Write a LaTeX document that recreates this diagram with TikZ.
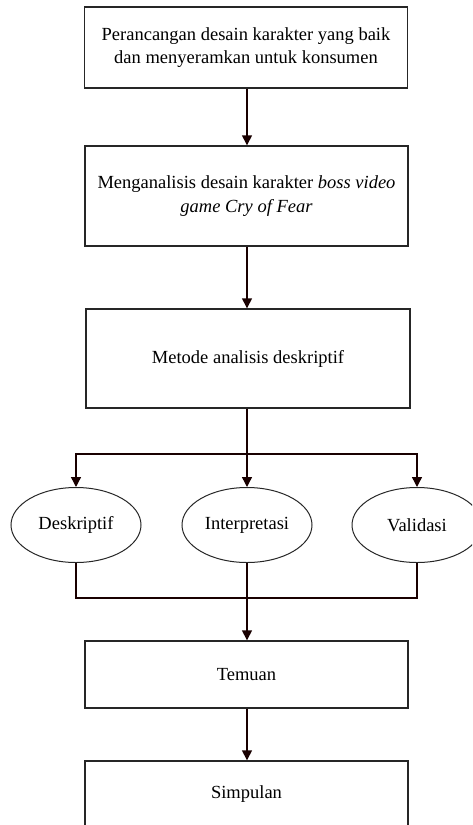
\documentclass[tikz,border=0pt]{standalone}
\usepackage{fontspec}
\setmainfont{Liberation Serif}
\usetikzlibrary{arrows.meta,shapes.geometric}
\begin{document}
\begin{tikzpicture}[x=1pt,y=1pt,
  line width=1.4pt,
  box/.style={draw=black!85, rectangle, minimum width=323pt, inner sep=0pt, align=center, font=\fontsize{18.5}{23.5}\selectfont},
  oval/.style={draw=black!85, line width=1pt, ellipse, minimum width=130pt, minimum height=75pt, inner sep=0pt, font=\fontsize{18.5}{23}\selectfont},
  arr/.style={draw=black!90!red, -{Triangle[length=10pt,width=10pt]}},
  ln/.style={draw=black!90!red}]
\useasboundingbox (0,0) rectangle (472,-825);
\clip (0,0) rectangle (472,-825);
\node[box, minimum height=81pt] (b1) at (246,-47.5) {Perancangan desain karakter yang baik\\dan menyeramkan untuk konsumen};
\node[box, minimum height=100pt] (b2) at (246.5,-196) {Menganalisis desain karakter \textit{boss video}\\\textit{game Cry of Fear}};
\node[box, minimum height=99pt, minimum width=324pt] (b3) at (248,-358.5) {Metode analisis deskriptif};
\node[oval] (d) at (76,-525) {Deskriptif};
\node[oval] (i) at (247,-525) {Interpretasi};
\node[oval] (v) at (417,-525) {Validasi};
\node[box, minimum height=67pt] (t) at (246.5,-674.5) {Temuan};
\node[box, minimum height=66pt] (s) at (246.5,-794) {Simpulan};
\coordinate (split) at (247,-454);
\coordinate (join) at (247,-598);
\draw[arr] (b1.south -| split) -- (b2.north -| split);
\draw[arr] (b2.south -| split) -- (b3.north -| split);
\draw[arr] (b3.south -| split) -- (i.north);
\draw[arr] (split) -| (d.north);
\draw[arr] (split) -| (v.north);
\draw[ln] (d.south) |- (join);
\draw[ln] (v.south) |- (join);
\draw[ln] (i.south) -- (join);
\draw[arr] (join) -- (t.north -| join);
\draw[arr] (t.south -| join) -- (s.north -| join);
\end{tikzpicture}
\end{document}
